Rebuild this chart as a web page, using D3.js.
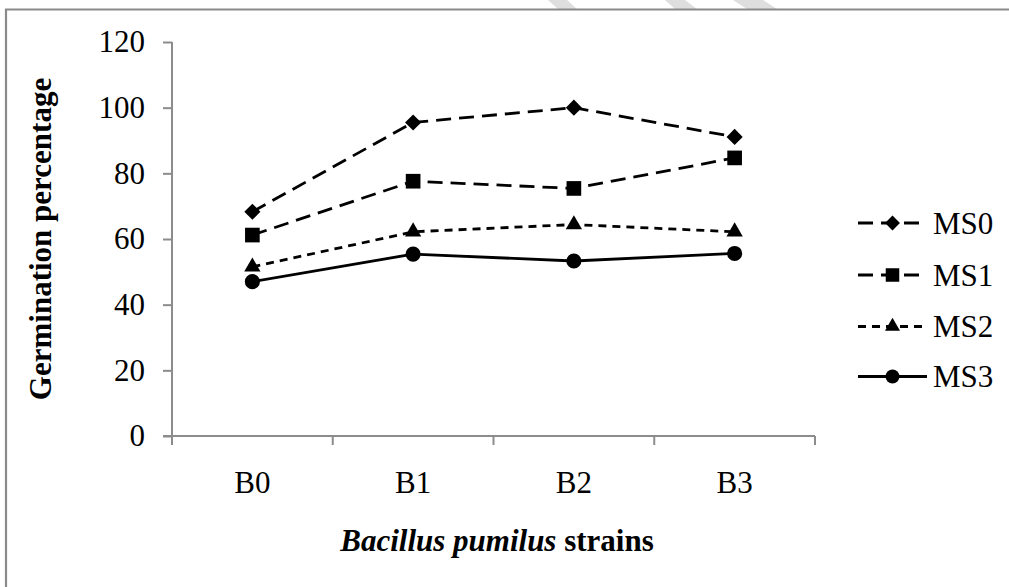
<!DOCTYPE html>
<html><head><meta charset="utf-8">
<script src="https://cdn.jsdelivr.net/npm/d3@7"></script>
<style>body{margin:0;background:#fff}svg{display:block}text{font-family:"Liberation Serif","Times New Roman",serif}</style>
</head><body>
<svg id="c" width="1009" height="587"></svg>
<script>
const categories = ["B0","B1","B2","B3"];
const seriesNames = ["MS0","MS1","MS2","MS3"];
const MS0 = [68.3, 95.5, 100.0, 91.1];
const MS1 = [61.2, 77.6, 75.4, 84.7];
const MS2 = [51.5, 62.2, 64.4, 62.2];
const MS3 = [47.0, 55.4, 53.3, 55.6];
const yTicks = [0,20,40,60,80,100,120];
const yTitle = "Germination percentage";

const seriesValues = [MS0, MS1, MS2, MS3];
const styles = [
  {dash:"15,8", sym:d3.symbolSquare, size:130, rot:45},
  {dash:"15,8", sym:d3.symbolSquare, size:215, rot:0},
  {dash:"8,6", sym:d3.symbolTriangle, size:115, rot:0},
  {dash:null, sym:d3.symbolCircle, size:180, rot:0}
];

const svg = d3.select("#c");
const font = "Liberation Serif, Times New Roman, serif";
const FS = 31;

// watermark fragments
const wm = [[548,567,577,558],[665,685,697,675],[733,763,777,747]];
wm.forEach(w=>{
  svg.append("polygon").attr("points",`${w[0]},0 ${w[1]},0 ${w[2]},9 ${w[3]},9`).attr("fill","#dedede");
});
// frame
svg.append("path").attr("d","M6,587 V9.5 H1009").attr("fill","none").attr("stroke","#8a8a8a").attr("stroke-width",2.2);

const x = d3.scaleBand().domain(categories).range([172,815]);
const y = d3.scaleLinear().domain([0,120]).range([436,42]);

const yAxis = svg.append("g").attr("transform","translate(172,0)")
  .call(d3.axisLeft(y).tickValues(yTicks).tickSize(9).tickPadding(18));
const xAxis = svg.append("g").attr("transform","translate(0,436)")
  .call(d3.axisBottom(x).tickSize(0).tickPadding(35));
[yAxis,xAxis].forEach(a=>{
  a.attr("font-family",font);
  a.select(".domain").attr("stroke","#8c8c8c").attr("stroke-width",2);
  a.selectAll(".tick line").attr("stroke","#8c8c8c").attr("stroke-width",2);
  a.selectAll("text").attr("font-family",font).attr("font-size",FS).attr("fill","#000");
});
yAxis.select(".domain").attr("d","M0,42V436");
xAxis.select(".domain").attr("d","M163,0H815");
// x tick marks at band edges
const edges = categories.map(c=>x(c)).concat([x.range()[1]]);
svg.append("g").selectAll("line").data(edges).join("line")
  .attr("x1",d=>d).attr("x2",d=>d).attr("y1",436).attr("y2",445)
  .attr("stroke","#8c8c8c").attr("stroke-width",2);

const cx = c => x(c) + x.bandwidth()/2;
const line = d3.line().x((d,i)=>cx(categories[i])).y(d=>y(d));

seriesValues.forEach((vals,k)=>{
  const s = styles[k];
  svg.append("path").attr("d",line(vals)).attr("fill","none")
    .attr("stroke","#000").attr("stroke-width",2.8)
    .attr("stroke-dasharray",s.dash);
  svg.append("g").selectAll("path").data(vals).join("path")
    .attr("d",d3.symbol().type(s.sym).size(s.size))
    .attr("transform",(d,i)=>`translate(${cx(categories[i])},${y(d)}) rotate(${s.rot})`)
    .attr("fill","#000");
});

// legend
const legY = [223, 275, 326.5, 376.5];
seriesNames.forEach((n,k)=>{
  const s = styles[k];
  const g = svg.append("g");
  g.append("line").attr("x1",858).attr("x2",927).attr("y1",legY[k]).attr("y2",legY[k])
    .attr("stroke","#000").attr("stroke-width",2.8).attr("stroke-dasharray",s.dash);
  g.append("path").attr("d",d3.symbol().type(s.sym).size(s.size*0.85))
    .attr("transform",`translate(892.5,${legY[k]}) rotate(${s.rot})`).attr("fill","#000");
  g.append("text").attr("x",933).attr("y",legY[k]).attr("dy","0.35em")
    .attr("font-family",font).attr("font-size",FS).text(n);
});

// axis titles
svg.append("text").attr("transform","translate(40,239) rotate(-90)").attr("dy","0.35em")
  .attr("text-anchor","middle").attr("font-family",font).attr("font-weight","bold")
  .attr("font-size",FS).text(yTitle);
const xt = svg.append("text").attr("x",497).attr("y",540).attr("dy","0.35em")
  .attr("text-anchor","middle").attr("font-family",font).attr("font-weight","bold").attr("font-size",FS);
xt.append("tspan").attr("font-family",font).attr("font-style","italic").text("Bacillus pumilus");
xt.append("tspan").attr("font-family",font).text(" strains");
</script>
</body></html>
